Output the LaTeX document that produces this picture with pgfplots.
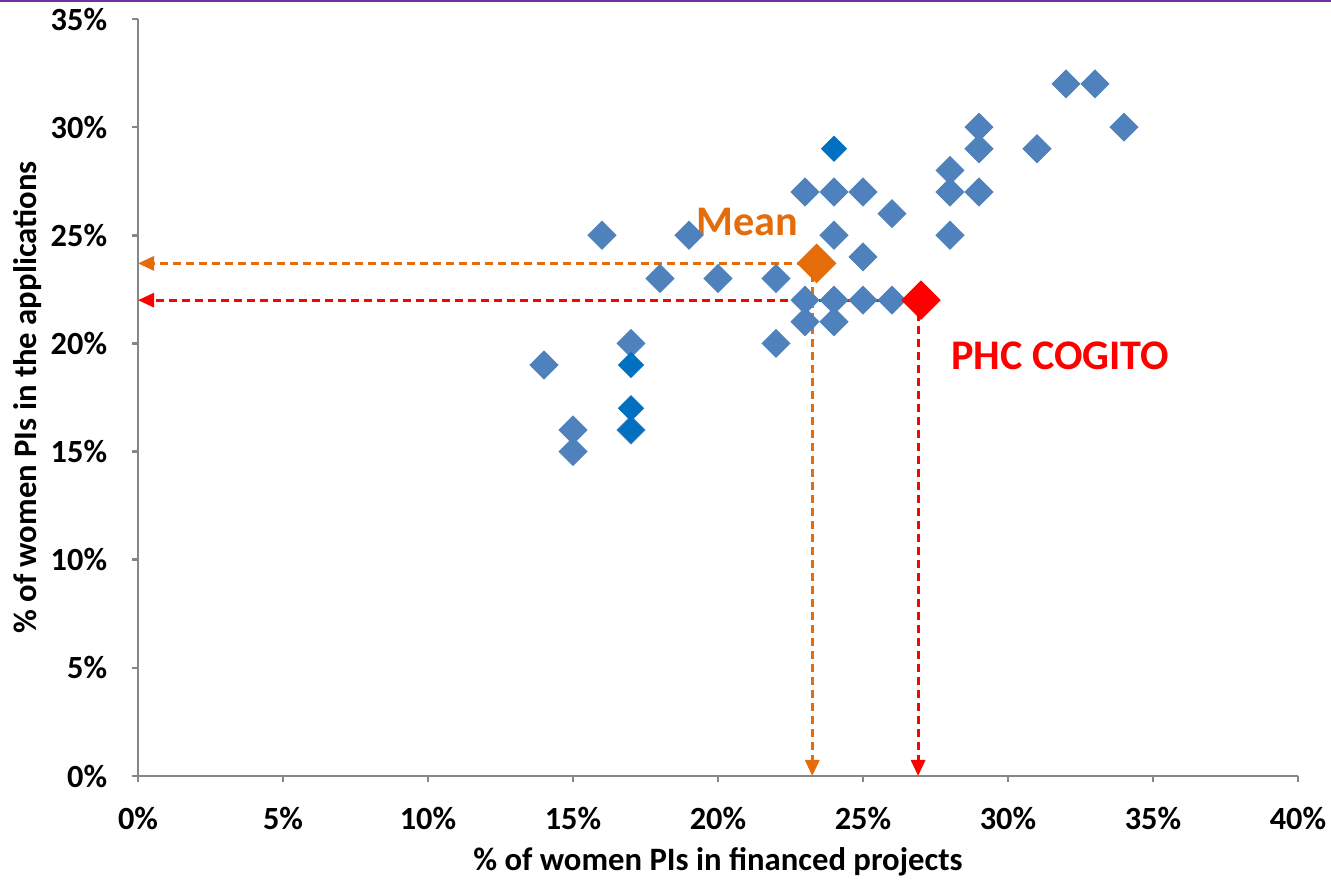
\documentclass[border=0pt]{standalone}
\usepackage{pgfplots}
\pgfplotsset{compat=1.18}
\usepackage{fontspec}
\setmainfont{Carlito}
\usetikzlibrary{arrows.meta}
\definecolor{ptblue}{HTML}{4F81BD}
\definecolor{ptdark}{HTML}{0070C0}
\definecolor{meanor}{HTML}{E46C0A}
\definecolor{axgray}{HTML}{868686}
\definecolor{topline}{HTML}{7030A0}
\begin{document}
\begin{tikzpicture}
\path[use as bounding box] (-1.38cm,-1.05cm) rectangle (11.93cm,7.76cm);
\draw[topline, line width=0.25mm] (-1.38cm,7.75cm) -- (11.93cm,7.75cm);
\begin{axis}[
  scale only axis, width=11.6cm, height=7.57cm,
  xmin=0, xmax=40, ymin=0, ymax=35,
  axis x line*=bottom, axis y line*=left,
  axis line style={axgray, line width=0.25mm},
  tick style={axgray, line width=0.25mm},
  tick align=outside, major tick length=0.65mm,
  xtick={0,5,...,40}, ytick={0,5,...,35},
  xticklabels={0\%,5\%,10\%,15\%,20\%,25\%,30\%,35\%,40\%},
  yticklabels={0\%,5\%,10\%,15\%,20\%,25\%,30\%,35\%},
  ticklabel style={font=\fontsize{9.2}{11}\selectfont\bfseries},
  xticklabel style={yshift=-1.2mm},
  yticklabel style={xshift=-1.2mm},
  xlabel={\% of women PIs in financed projects},
  ylabel={\% of women PIs in the applications},
  label style={font=\fontsize{9.3}{11}\selectfont\bfseries},
  xlabel style={at={(axis description cs:0.5,-0.1136)}, anchor=center},
  ylabel style={at={(axis description cs:-0.0948,0.5)}, anchor=center},
  clip=false,
]
\addplot[only marks, mark=square*, mark size=0.98mm, mark options={rotate=45, fill=ptblue, draw=ptblue, line width=0.1mm}] coordinates {
(14,19) (15,16) (15,15) (16,25) (17,20) (18,23) (19,25) (20,23)
(22,23) (22,20) (23,27) (23,22) (23,21) (24,27) (24,25) (24,22) (24,21)
(25,27) (25,24) (25,22) (26,26) (26,22) (28,28) (28,27) (28,25)
(29,30) (29,29) (29,27) (31,29) (32,32) (33,32) (34,30) (17,16)
};
\addplot[only marks, mark=square*, mark size=0.88mm, mark options={rotate=45, fill=ptdark, draw=ptdark, line width=0.1mm}] coordinates {
(17,19) (17,17) (17,16) (24,29)
};
\addplot[meanor, line width=0.3mm, dash pattern=on 0.8mm off 0.5mm, -{Triangle[length=1.6mm,width=1.4mm]}] coordinates {(23.0,23.7) (0,23.7)};
\addplot[meanor, line width=0.3mm, dash pattern=on 0.8mm off 0.5mm, -{Triangle[length=1.6mm,width=1.4mm]}] coordinates {(23.25,23.2) (23.25,0)};
\addplot[red, line width=0.3mm, dash pattern=on 0.8mm off 0.5mm, -{Triangle[length=1.6mm,width=1.4mm]}] coordinates {(26.9,22) (0,22)};
\addplot[red, line width=0.3mm, dash pattern=on 0.8mm off 0.5mm, -{Triangle[length=1.6mm,width=1.4mm]}] coordinates {(26.9,22) (26.9,0)};
\addplot[only marks, mark=square*, mark size=1.35mm, mark options={rotate=45, fill=meanor, draw=meanor, line width=0.1mm}] coordinates {(23.4,23.7)};
\addplot[only marks, mark=square*, mark size=1.35mm, mark options={rotate=45, fill=red, draw=red, line width=0.1mm}] coordinates {(27,22)};
\node[meanor, font=\fontsize{12}{14}\selectfont\bfseries] at (axis cs:21.0,25.6) {Mean};
\node[red, font=\fontsize{12}{14}\selectfont\bfseries] at (axis cs:31.8,19.45) {PHC COGITO};
\end{axis}
\end{tikzpicture}
\end{document}
